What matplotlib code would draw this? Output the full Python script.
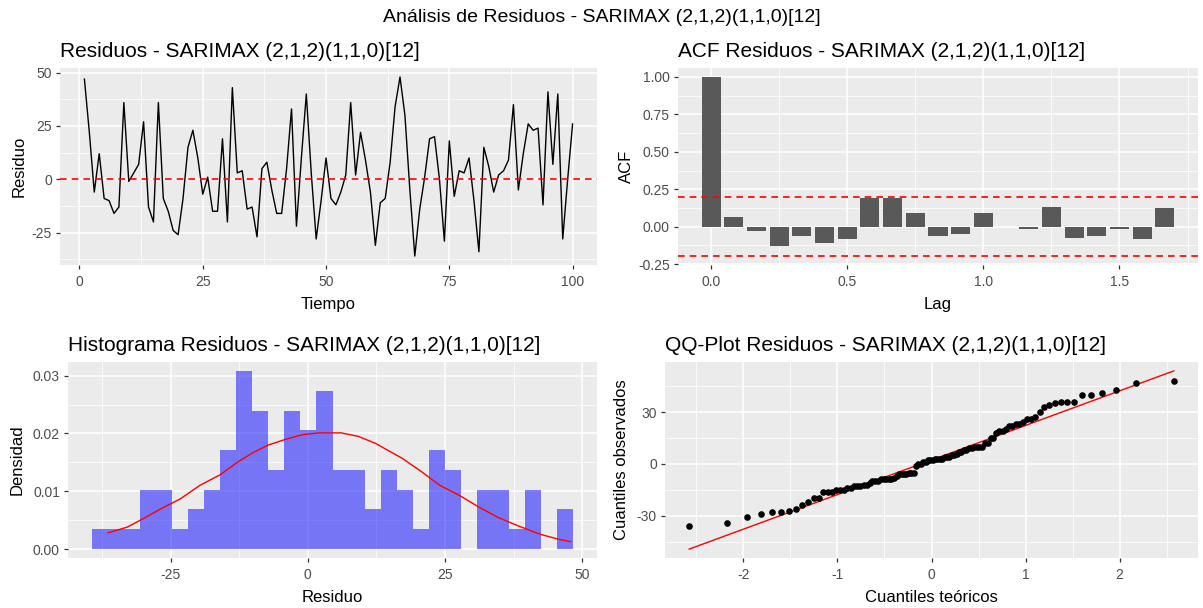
import numpy as np
import matplotlib.pyplot as plt
from matplotlib.ticker import MultipleLocator, FormatStrFormatter
from statistics import NormalDist

plt.rcParams['font.family'] = ['Liberation Sans', 'DejaVu Sans']
plt.rcParams['axes.unicode_minus'] = False

# residuos del modelo, t = 1..100
residuos = [47, 22, -6, 12, -9, -10, -16, -13, 36, -1,
            3, 7, 27, -13, -20, 36, -9, -15, -24, -26,
            -9, 15, 23, 10, -7, 1, -15, -15, 19, -20,
            43, 3, 4, -14, -13, -27, 5, 8, -5, -16,
            -16, 5, 33, -22, 10, 40, 3, -28, -10, 10,
            -9, -12, -6, 2, 36, 2, 22, 9, -6, -31,
            -11, -9, 8, 34, 48, 30, -5, -36, -14, 1,
            19, 20, 0, -29, 18, -8, 4, 3, 10, -10,
            -34, 15, 6, -6, 2, 4, 9, 35, -5, 12,
            26, 23, 24, -12, 41, 7, 40, -28, 0, 26]
tiempo = np.arange(1, len(residuos) + 1)

# ACF (lags en años, frecuencia 12)
acf_valores = [1.00, 0.067, -0.03, -0.13, -0.062, -0.107, -0.085, 0.19, 0.194, 0.091,
               -0.062, -0.051, 0.091, 0.0, -0.018, 0.134, -0.073, -0.062, -0.018, -0.085, 0.122]
acf_lags = np.arange(len(acf_valores)) / 12
limite_conf = 1.96 / np.sqrt(len(residuos))

# histograma: conteos por intervalo
hist_inicio = -39.3
hist_ancho = 2.92
hist_conteos = [1, 1, 1, 3, 3, 1, 2, 3, 5, 9, 7, 4, 7, 6, 8, 4, 4, 2, 4, 3,
                1, 5, 4, 0, 3, 3, 1, 3, 0, 2]

# curva de densidad
dens_x = [-36.4, -32.9, -30.1, -26.7, -23.2, -19.7, -15.9, -12.7, -9.95, -7.2, -4.0, -0.9, 1.9,
          6.1, 9.2, 12.3, 17.2, 20.7, 24.1, 27.6, 31.1, 34.6, 38.1, 42.2, 45.7, 47.8]
dens_y = [0.0028, 0.0038, 0.0052, 0.0070, 0.0087, 0.0110, 0.0129, 0.0151, 0.0167, 0.0180, 0.0190,
          0.0198, 0.0201, 0.0201, 0.0195, 0.0183, 0.0157, 0.0134, 0.0110, 0.0093, 0.0073, 0.0055,
          0.0041, 0.0026, 0.0017, 0.0013]

modelo = "SARIMAX (2,1,2)(1,1,0)[12]"


def estilo_gg(ax, mx, my):
    ax.set_facecolor('#EBEBEB')
    for s in ax.spines.values():
        s.set_visible(False)
    ax.xaxis.set_major_locator(MultipleLocator(mx))
    ax.xaxis.set_minor_locator(MultipleLocator(mx / 2))
    ax.yaxis.set_major_locator(MultipleLocator(my))
    ax.yaxis.set_minor_locator(MultipleLocator(my / 2))
    ax.grid(which='major', color='white', lw=1.1)
    ax.grid(which='minor', color='white', lw=0.55)
    ax.set_axisbelow(True)
    ax.tick_params(which='major', length=2.8, width=0.9, color='#333333', labelcolor='#4D4D4D',
                   labelsize=10, pad=3)
    ax.tick_params(axis='x', which='major', pad=4.5)
    ax.tick_params(which='minor', length=0)


def textos(ax, titulo, xlab, ylab, ylab_x):
    ax.set_title(titulo, loc='left', fontsize=15, pad=8)
    ax.set_xlabel(xlab, fontsize=12, labelpad=6)
    ax.set_ylabel(ylab, fontsize=12)
    ax.yaxis.set_label_coords(ylab_x, 0.5)


fig = plt.figure(figsize=(12.03, 6.08), dpi=100)
fig.text(0.5, 1 - 18 / 608, "Análisis de Residuos - " + modelo, ha='center', va='center', fontsize=14)

# residuos vs tiempo
ax1 = fig.add_axes([60 / 1203, 1 - 265 / 608, 537 / 1203, 197 / 608])
ax1.plot(tiempo, residuos, color='black', lw=1.0)
ax1.axhline(0, color='red', ls='--', lw=1.2, dashes=(4, 3))
estilo_gg(ax1, 25, 25)
textos(ax1, "Residuos - " + modelo, "Tiempo", "Residuo", -0.062)

# ACF
ax2 = fig.add_axes([678 / 1203, 1 - 265 / 608, 520 / 1203, 197 / 608])
ax2.bar(acf_lags, acf_valores, width=0.07, color='#595959', lw=0)
ax2.axhline(limite_conf, color='red', ls='--', lw=1.2, dashes=(4, 3))
ax2.axhline(-limite_conf, color='red', ls='--', lw=1.2, dashes=(4, 3))
lo, hi = min(min(acf_valores), -limite_conf), max(acf_valores)
ax2.set_ylim(lo - 0.05 * (hi - lo), hi + 0.05 * (hi - lo))
estilo_gg(ax2, 0.5, 0.25)
ax2.xaxis.set_major_formatter(FormatStrFormatter('%.1f'))
ax2.yaxis.set_major_formatter(FormatStrFormatter('%.2f'))
textos(ax2, "ACF Residuos - " + modelo, "Lag", "ACF", -0.085)

# histograma
ax3 = fig.add_axes([68 / 1203, 1 - 558 / 608, 529 / 1203, 196 / 608])
bordes = hist_inicio + hist_ancho * np.arange(len(hist_conteos))
densidad = np.array(hist_conteos) / (len(residuos) * hist_ancho)
ax3.bar(bordes, densidad, width=hist_ancho, align='edge', color='blue', alpha=0.5, lw=0)
ax3.plot(dens_x, dens_y, color='red', lw=1.0)
top = densidad.max()
ax3.set_ylim(-0.05 * top, 1.05 * top)
estilo_gg(ax3, 25, 0.01)
ax3.yaxis.set_major_formatter(FormatStrFormatter('%.2f'))
textos(ax3, "Histograma Residuos - " + modelo, "Residuo", "Densidad", -0.082)

# QQ-plot
ax4 = fig.add_axes([665 / 1203, 1 - 558 / 608, 533 / 1203, 196 / 608])
n = len(residuos)
teoricos = np.array([NormalDist().inv_cdf((i - 0.5) / n) for i in range(1, n + 1)])
observados = np.sort(residuos)
q1, q3 = np.quantile(observados, [0.25, 0.75])
z1, z3 = NormalDist().inv_cdf(0.25), NormalDist().inv_cdf(0.75)
pend = (q3 - q1) / (z3 - z1)
inter = q1 - pend * z1
ax4.scatter(teoricos, observados, s=14, color='black', zorder=3)
ax4.plot(teoricos[[0, -1]], inter + pend * teoricos[[0, -1]], color='red', lw=1.0)
estilo_gg(ax4, 1, 30)
textos(ax4, "QQ-Plot Residuos - " + modelo, "Cuantiles teóricos", "Cuantiles observados", -0.068)

fig.savefig("out.png", dpi=100)
